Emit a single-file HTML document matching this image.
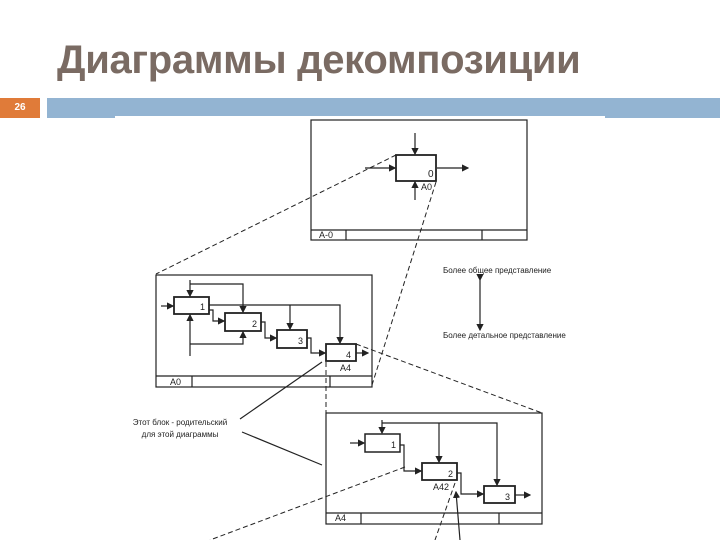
<!DOCTYPE html><html><head><meta charset="utf-8"><style>
body{margin:0;width:720px;height:540px;background:#fff;overflow:hidden;position:relative;font-family:"Liberation Sans",sans-serif}
.t{position:absolute;left:57px;top:38px;font-size:40px;font-weight:bold;color:#7a6b63;letter-spacing:-0.3px}
</style></head><body>
<div class="t">Диаграммы декомпозиции</div>
<div style="position:absolute;left:0;top:98px;width:40px;height:20px;background:#e07b39;color:#fff;font-size:10px;font-weight:bold;text-align:center;line-height:20px">26</div>
<div style="position:absolute;left:47px;top:98px;width:673px;height:20px;background:#93b4d2"></div>
<svg width="720" height="540" style="position:absolute;left:0;top:0">
<rect x="115" y="116" width="490" height="424" fill="#fff"/>
<defs><marker id="a" markerWidth="6" markerHeight="6" refX="5" refY="3" orient="auto"><path d="M0,0L6,3L0,6z" fill="#222"/></marker></defs>
<g fill="none" stroke="#222" stroke-width="1.2">
<rect x="311" y="120" width="216" height="120"/><line x1="311" y1="230" x2="527" y2="230"/><line x1="346" y1="230" x2="346" y2="240"/><line x1="482" y1="230" x2="482" y2="240"/>
<rect x="396" y="155" width="40" height="26" stroke-width="1.8"/>
<line x1="415" y1="133" x2="415" y2="154" marker-end="url(#a)"/><line x1="365" y1="168" x2="395" y2="168" marker-end="url(#a)"/><line x1="437" y1="168" x2="468" y2="168" marker-end="url(#a)"/><line x1="415" y1="200" x2="415" y2="182" marker-end="url(#a)"/>
<rect x="156" y="275" width="216" height="112"/><line x1="156" y1="376" x2="372" y2="376"/><line x1="192" y1="376" x2="192" y2="387"/><line x1="330" y1="376" x2="330" y2="387"/>
<rect x="174" y="297" width="35" height="17" stroke-width="1.8"/><rect x="225" y="313" width="36" height="18" stroke-width="1.8"/><rect x="277" y="330" width="30" height="18" stroke-width="1.8"/><rect x="326" y="344" width="30" height="17" stroke-width="1.8"/>
<line x1="161" y1="306" x2="173" y2="306" marker-end="url(#a)"/>
<path d="M190,280V296" marker-end="url(#a)"/><path d="M190,284H243V312" marker-end="url(#a)"/>
<path d="M190,356V315" marker-end="url(#a)"/><path d="M190,344H243V332" marker-end="url(#a)"/>
<path d="M209,305H340V343" marker-end="url(#a)"/><path d="M290,305V329" marker-end="url(#a)"/>
<path d="M209,310H213V321H224" marker-end="url(#a)"/><path d="M261,322H265V338H276" marker-end="url(#a)"/><path d="M307,338H311V353H325" marker-end="url(#a)"/>
<line x1="356" y1="353" x2="368" y2="353" marker-end="url(#a)"/>
<rect x="326" y="413" width="216" height="111"/><line x1="326" y1="513" x2="542" y2="513"/><line x1="361" y1="513" x2="361" y2="524"/><line x1="499" y1="513" x2="499" y2="524"/>
<rect x="365" y="434" width="35" height="18" stroke-width="1.5"/><rect x="422" y="463" width="35" height="17" stroke-width="1.8"/><rect x="484" y="486" width="31" height="17" stroke-width="1.8"/>
<line x1="350" y1="443" x2="364" y2="443" marker-end="url(#a)"/>
<path d="M382,420V433" marker-end="url(#a)"/><path d="M382,423H497V485" marker-end="url(#a)"/><path d="M439,423V462" marker-end="url(#a)"/>
<path d="M400,445H404V471H421" marker-end="url(#a)"/><path d="M457,473H461V494H483" marker-end="url(#a)"/><line x1="515" y1="495" x2="530" y2="495" marker-end="url(#a)"/>
<g stroke-dasharray="5,3" stroke-width="1">
<line x1="396" y1="155" x2="156" y2="274"/><line x1="436" y1="182" x2="372" y2="385"/><line x1="356" y1="344" x2="542" y2="413"/><line x1="326" y1="362" x2="326" y2="413"/><line x1="405" y1="467" x2="210" y2="540"/><line x1="455" y1="483" x2="435" y2="540"/>
</g>
<line x1="240" y1="419" x2="322" y2="362"/><line x1="242" y1="432" x2="322" y2="465"/><line x1="460" y1="540" x2="456" y2="492" marker-end="url(#a)"/>
<line x1="480" y1="280" x2="480" y2="330" marker-start="url(#a)" marker-end="url(#a)"/>
</g>
<g font-size="9" fill="#222">
<text x="428" y="177" font-size="10">0</text><text x="421" y="190">A0</text><text x="319" y="238">A-0</text>
<text x="200" y="310">1</text><text x="252" y="327">2</text><text x="298" y="344">3</text><text x="346" y="358">4</text><text x="340" y="371">A4</text><text x="170" y="385">A0</text>
<text x="391" y="448">1</text><text x="448" y="477">2</text><text x="505" y="500">3</text><text x="433" y="490">A42</text><text x="335" y="521">A4</text>
<text x="443" y="273" font-size="8">Более общее представление</text><text x="443" y="338" font-size="8">Более детальное представление</text>
<text x="180" y="425" text-anchor="middle" font-size="8">Этот блок - родительский</text><text x="180" y="437" text-anchor="middle" font-size="8">для этой диаграммы</text>
</g></svg></body></html>
